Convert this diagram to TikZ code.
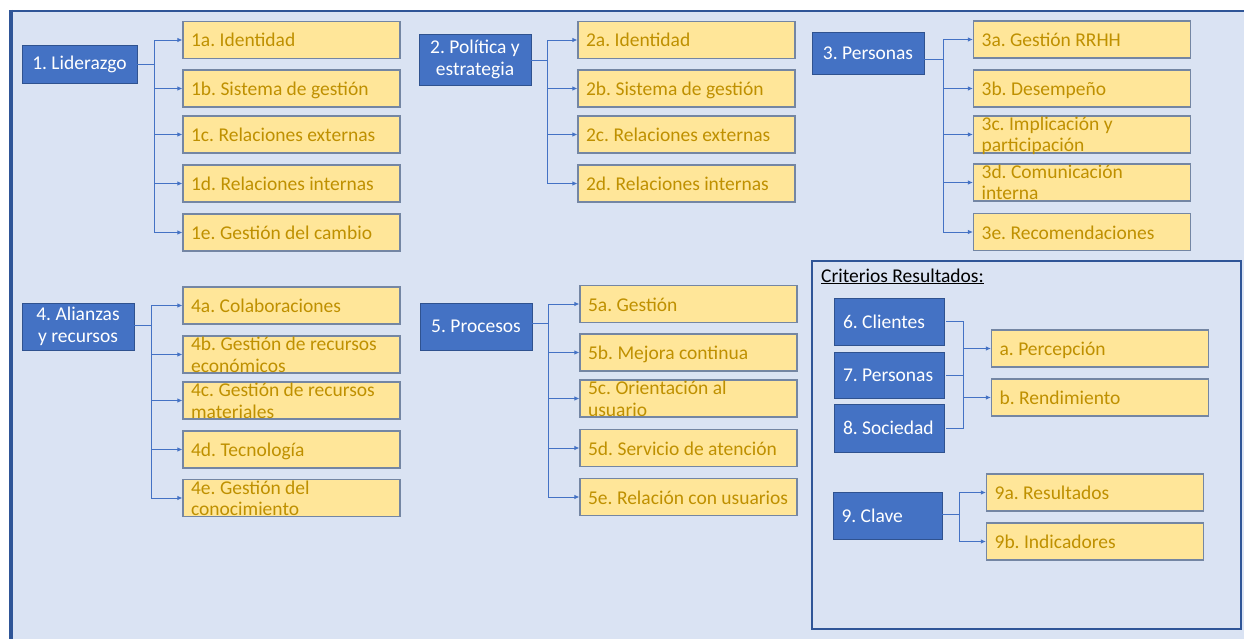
\documentclass[tikz,border=0pt]{standalone}
\usepackage{fontspec}
\setmainfont{Carlito}
\usetikzlibrary{arrows.meta}
\frenchspacing

\definecolor{bgblue}{HTML}{DAE3F3}
\definecolor{frameblue}{HTML}{2F5597}
\definecolor{boxblue}{HTML}{4472C4}
\definecolor{boxblueline}{HTML}{2F528F}
\definecolor{boxyellow}{HTML}{FFE699}
\definecolor{yellowline}{HTML}{7486A3}
\definecolor{goldtext}{HTML}{BF9000}
\definecolor{connblue}{HTML}{4472C4}

\tikzset{
  mainbox/.style={rectangle, fill=boxblue, draw=boxblueline, line width=0.8pt,
    text=white, font=\fontsize{19.5}{22}\selectfont, align=center, inner sep=0pt},
  leafbox/.style={rectangle, fill=boxyellow, draw=yellowline, line width=1.2pt,
    minimum width=217pt, minimum height=37pt, inner sep=0pt},
  leaftext/.style={anchor=base west, inner sep=0pt, text=goldtext,
    font=\fontsize{19.5}{21.5}\selectfont, align=left},
  trunk/.style={draw=connblue, line width=0.9pt},
  branch/.style={trunk, -{Latex[length=5pt,width=4.5pt]}},
}

% yellow sub-criterion: [shift of the last baseline] {name} {centre} {text}
\newcommand\leafitem[4][-7]{%
  \node[leafbox] (#2) at #3 {};
  \node[leaftext] (#2-t) at ([xshift=8.5pt,yshift=#1pt]#2.west) {#4};}
% left-aligned label inside a blue result box
\newcommand\lefttext[1]{\makebox[92pt][l]{#1}}

\begin{document}
\begin{tikzpicture}[x=1pt,y=-1pt]
\useasboundingbox (0,0) rectangle (1244,639);

% background panel and its frame
\fill[bgblue] (10,10) rectangle (1244,639);
\draw[frameblue, line width=2pt] (10,11) -- (1244,11);
\draw[frameblue, line width=3.5pt] (11,10) -- (11,639);

% ---- 1. Liderazgo
\node[mainbox, minimum width=115pt, minimum height=38pt] (c1) at (79.5,64) {1. Liderazgo};
\leafitem{1a}{(291.5,40)}{1a. Identidad}
\leafitem{1b}{(291.5,88.5)}{1b. Sistema de gestión}
\leafitem{1c}{(291.5,134.5)}{1c. Relaciones externas}
\leafitem{1d}{(291.5,183.5)}{1d. Relaciones internas}
\leafitem{1e}{(291.5,232.5)}{1e. Gestión del cambio}
\coordinate (t1) at (154,64);
\draw[trunk] (c1.east) -- (t1);
\foreach \n in {1a,1b,1c,1d,1e} \draw[branch] (t1) |- (\n.west);

% ---- 2. Política y estrategia
\node[mainbox, minimum width=112pt, minimum height=51pt] (c2) at (475,59.5) {2. Política y\\estrategia};
\leafitem{2a}{(686.5,40)}{2a. Identidad}
\leafitem{2b}{(686.5,88.5)}{2b. Sistema de gestión}
\leafitem{2c}{(686.5,134.5)}{2c. Relaciones externas}
\leafitem{2d}{(686.5,183.5)}{2d. Relaciones internas}
\coordinate (t2) at (547,60);
\draw[trunk] (c2.east |- t2) -- (t2);
\foreach \n in {2a,2b,2c,2d} \draw[branch] (t2) |- (\n.west);

% ---- 3. Personas
\node[mainbox, minimum width=112pt, minimum height=42pt] (c3) at (868,53) {3. Personas};
\leafitem{3a}{(1082,39.5)}{3a. Gestión RRHH}
\leafitem{3b}{(1082,88.5)}{3b. Desempeño}
\leafitem[-17.5]{3c}{(1082,134.5)}{3c. Implicación y\\participación}
\leafitem[-17.5]{3d}{(1082,182.5)}{3d. Comunicación\\interna}
\leafitem{3e}{(1082,232)}{3e. Recomendaciones}
\coordinate (t3) at (943,59);
\draw[trunk] (c3.east |- t3) -- (t3);
\foreach \n in {3a,3b,3c,3d,3e} \draw[branch] (t3) |- (\n.west);

% ---- 4. Alianzas y recursos
\node[mainbox, minimum width=112pt, minimum height=47pt] (c4) at (78,326.5) {4. Alianzas\\y recursos};
\leafitem{4a}{(291.5,305.5)}{4a. Colaboraciones}
\leafitem[-17.5]{4b}{(291.5,354.5)}{4b. Gestión de recursos\\económicos}
\leafitem[-17.5]{4c}{(291.5,400.5)}{4c. Gestión de recursos\\materiales}
\leafitem{4d}{(291.5,449.5)}{4d. Tecnología}
\leafitem[-17.5]{4e}{(291.5,498)}{4e. Gestión del\\conocimiento}
\coordinate (t4) at (151,325);
\draw[trunk] (c4.east |- t4) -- (t4);
\foreach \n in {4a,4b,4c,4d,4e} \draw[branch] (t4) |- (\n.west);

% ---- 5. Procesos
\node[mainbox, minimum width=112pt, minimum height=47pt] (c5) at (476,326.5) {5. Procesos};
\leafitem{5a}{(688.5,304)}{5a. Gestión}
\leafitem{5b}{(688.5,352.5)}{5b. Mejora continua}
\leafitem[-17.5]{5c}{(688.5,398.5)}{5c. Orientación al\\usuario}
\leafitem{5d}{(688.5,448)}{5d. Servicio de atención}
\leafitem{5e}{(688.5,497)}{5e. Relación con usuarios}
\coordinate (t5) at (548,323);
\draw[trunk] (c5.east |- t5) -- (t5);
\foreach \n in {5a,5b,5c,5d,5e} \draw[branch] (t5) |- (\n.west);

% ---- Criterios Resultados panel
\draw[frameblue, line width=2.5pt] (812,261) rectangle (1241,629);
\node[anchor=base west, inner sep=0pt, text=black, font=\fontsize{19.5}{22}\selectfont]
  (crit) at (821,282) {\underline{Criterios Resultados:}};

\node[mainbox, minimum width=110pt, minimum height=47pt] (c6) at (889,321.5) {\lefttext{6. Clientes}};
\node[mainbox, minimum width=110pt, minimum height=46pt] (c7) at (889,375) {\lefttext{7. Personas}};
\node[mainbox, minimum width=110pt, minimum height=48pt] (c8) at (889,428) {\lefttext{8. Sociedad}};
\leafitem{ra}{(1100,348.5)}{a. Percepción}
\leafitem{rb}{(1100,397.5)}{b. Rendimiento}
\coordinate (t6) at (963,375);
\draw[trunk] ([xshift=2pt]c6.east) -- (c6.east -| t6) -- (c8.east -| t6) -- ([xshift=2pt]c8.east);
\draw[trunk] ([xshift=2pt]c7.east) -- (c7.east -| t6);
\draw[branch] (t6 |- ra.west) -- (ra.west);
\draw[branch] (t6 |- rb.west) -- (rb.west);

\node[mainbox, minimum width=109pt, minimum height=47pt] (c9) at (887.5,515.5) {\lefttext{9. Clave}};
\leafitem{9a}{(1095,492.5)}{9a. Resultados}
\leafitem{9b}{(1095,541.5)}{9b. Indicadores}
\coordinate (t9) at (959,514);
\draw[trunk] (c9.east |- t9) -- (t9);
\foreach \n in {9a,9b} \draw[branch] (t9) |- (\n.west);

\end{tikzpicture}
\end{document}
